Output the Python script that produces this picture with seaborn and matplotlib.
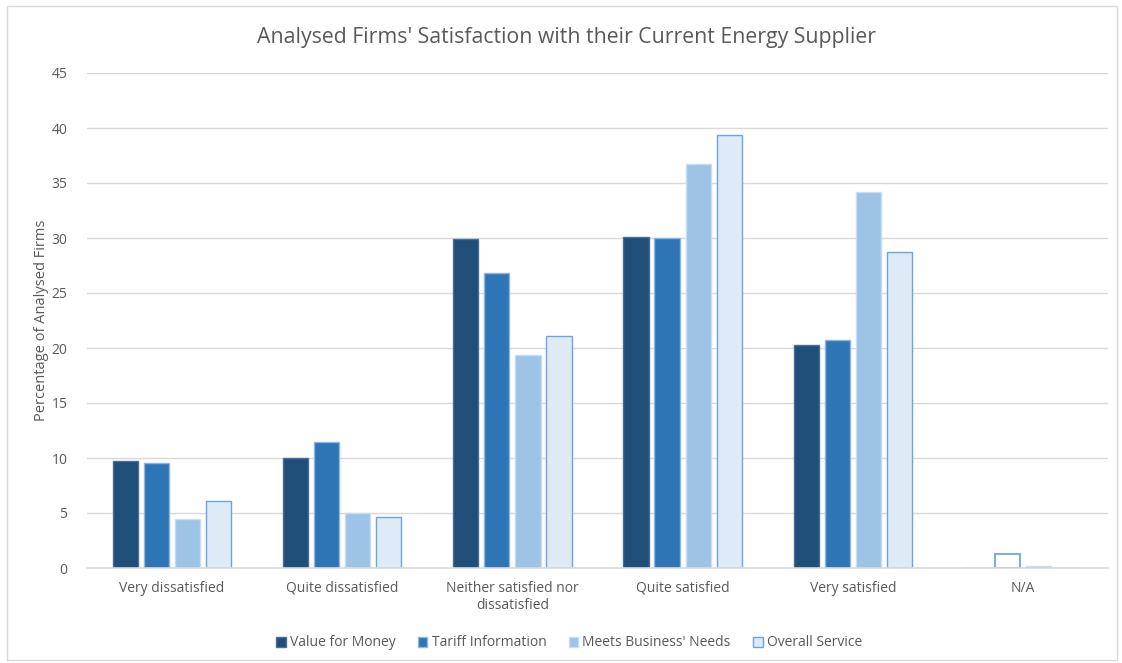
import matplotlib
matplotlib.use("Agg")
import matplotlib.pyplot as plt
import seaborn as sns
import pandas as pd
from matplotlib.patches import Rectangle

categories = ["Very dissatisfied", "Quite dissatisfied", "Neither satisfied nor\ndissatisfied",
              "Quite satisfied", "Very satisfied", "N/A"]
series_names = ["Value for Money", "Tariff Information", "Meets Business' Needs", "Overall Service"]
value_for_money = [9.7, 10.0, 29.9, 30.1, 20.3, 0.0]
tariff_information = [9.55, 11.45, 26.8, 30.0, 20.7, 1.3]
meets_business_needs = [4.45, 5.0, 19.4, 36.7, 34.2, 0.2]
overall_service = [6.1, 4.6, 21.1, 39.4, 28.7, 0.0]

fills = ["#1F4E79", "#2E75B6", "#9DC3E6", "#DEEBF7"]
edges = ["#4A6E94", "#8DB6E0", "#C9DDF2", "#6FA3DC"]

rows = []
for name, vals in zip(series_names, [value_for_money, tariff_information,
                                     meets_business_needs, overall_service]):
    for cat, v in zip(categories, vals):
        rows.append({"Category": cat, "Series": name, "Value": v})
df = pd.DataFrame(rows)

sns.set_theme(style="white")
plt.rcParams["font.family"] = ["Open Sans", "DejaVu Sans"]
text_color = "#595959"

fig = plt.figure(figsize=(11.22, 6.63), dpi=100)
ax = fig.add_axes([87 / 1122, 1 - 568 / 663, (1108 - 87) / 1122, (568 - 73) / 663])

sns.barplot(data=df, x="Category", y="Value", hue="Series", order=categories,
            hue_order=series_names, palette=fills, width=0.73, gap=0.19,
            saturation=1, ax=ax, legend=False)

# edge colours per series
for cont, ec in zip(ax.containers, edges):
    for p in cont.patches:
        p.set_edgecolor(ec)
        p.set_linewidth(1.0)

# the N/A tariff bar is drawn outlined only
na_bar = ax.containers[1].patches[-1]
na_bar.set_facecolor("white")
na_bar.set_edgecolor("#7EAEE0")
na_bar.set_linewidth(1.5)

ax.set_ylim(0, 45)
ax.set_yticks(range(0, 46, 5))
ax.set_xlim(-0.5, len(categories) - 0.5)
ax.yaxis.grid(True, color="#D9D9D9", linewidth=1)
ax.set_axisbelow(True)
for s in ["top", "right", "left"]:
    ax.spines[s].set_visible(False)
ax.spines["bottom"].set_color("#D9D9D9")
ax.spines["bottom"].set_linewidth(1.2)
ax.tick_params(axis="both", length=0, colors=text_color, labelsize=10)
ax.tick_params(axis="y", pad=14)
ax.tick_params(axis="x", pad=9)
ax.set_xlabel("")
ax.set_ylabel("Percentage of Analysed Firms", color=text_color, fontsize=10.5)
ax.yaxis.set_label_coords(-0.037, 0.5)

fig.suptitle("Analysed Firms' Satisfaction with their Current Energy Supplier",
             x=0.505, y=1 - 38 / 663, va="center", fontsize=15.3, color=text_color)

handles = [Rectangle((0, 0), 1, 1, facecolor=f, edgecolor=e) for f, e in zip(fills, edges)]
fig.legend(handles, series_names, loc="center", bbox_to_anchor=(569 / 1122, 1 - 643 / 663),
           ncol=4, frameon=False, fontsize=10, handlelength=0.7, handleheight=0.7,
           handletextpad=0.3, columnspacing=1.6, labelcolor=text_color)

fig.add_artist(Rectangle((7 / 1122, 3 / 663), 1110 / 1122, 654 / 663, transform=fig.transFigure,
                         fill=False, edgecolor="#D9D9D9", linewidth=1))

fig.savefig("out.png", dpi=100, facecolor="white")
